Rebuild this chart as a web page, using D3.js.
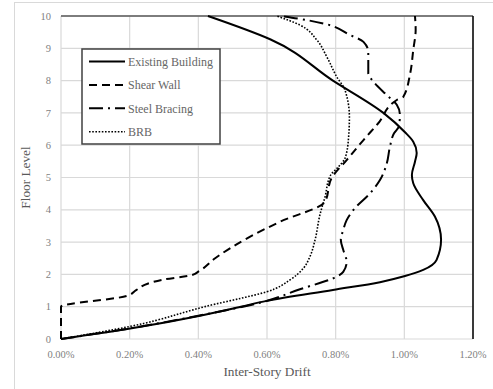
<!doctype html>
<html lang="en">
  <head>
    <meta charset="UTF-8" />
    <title>Inter-Story Drift</title>
    <script src="https://unpkg.com/d3@7.9.0/dist/d3.min.js"></script>
    <style>
      body {
        margin: 0;
        background: #fff;
      }
    </style>
  </head>
  <body>
    <div id="chart"></div>
    <script>
      // [drift (%), floor level]
      const existingBuilding = [
        [0, 0], [0.206, 0.33], [0.405, 0.72], [0.524, 1.0], [0.599, 1.18],
        [0.792, 1.52], [0.929, 1.76], [1.002, 1.95], [1.055, 2.14],
        [1.094, 2.45], [1.107, 3.07], [1.089, 3.79], [1.055, 4.3],
        [1.026, 4.82], [1.022, 5.08], [1.031, 5.49], [1.036, 5.76],
        [1.026, 6.11], [1.002, 6.4], [0.939, 7.0], [0.792, 8.0],
        [0.609, 9.28], [0.428, 10],
      ];
      const shearWall = [
        [0, 0], [0, 1.0], [0.191, 1.33], [0.22, 1.52], [0.254, 1.72],
        [0.293, 1.83], [0.381, 1.98], [0.402, 2.1], [0.449, 2.5],
        [0.551, 3.17], [0.638, 3.63], [0.769, 4.25], [0.788, 4.98],
        [0.832, 5.54], [0.881, 6.16], [0.924, 6.68], [0.978, 7.4],
        [0.997, 7.5], [1.017, 8.22], [1.026, 8.95], [1.033, 9.57],
        [1.031, 10],
      ];
      const steelBracing = [
        [0, 0], [0.2, 0.33], [0.4, 0.72], [0.589, 1.15], [0.696, 1.54],
        [0.803, 1.93], [0.822, 2.08], [0.832, 2.39], [0.822, 2.76],
        [0.815, 3.07], [0.822, 3.37], [0.832, 3.68], [0.856, 4.05],
        [0.9, 4.51], [0.929, 4.92], [0.949, 5.44], [0.958, 5.95],
        [0.97, 6.37], [0.985, 6.6], [0.987, 6.95], [0.978, 7.25],
        [0.949, 7.55], [0.91, 7.97], [0.895, 8.22], [0.895, 8.89],
        [0.881, 9.2], [0.842, 9.41], [0.764, 9.77], [0.69, 9.92],
        [0.64, 10],
      ];
      const brb = [
        [0, 0], [0.206, 0.4], [0.449, 1.08], [0.524, 1.26], [0.599, 1.46],
        [0.667, 1.83], [0.706, 2.19], [0.725, 2.55], [0.74, 3.07],
        [0.754, 3.84], [0.769, 4.4], [0.784, 5.05], [0.808, 5.33],
        [0.827, 5.59], [0.837, 6.16], [0.84, 6.88], [0.827, 7.71],
        [0.803, 8.12], [0.774, 8.74], [0.745, 9.26], [0.696, 9.72],
        [0.628, 10],
      ];

      const seriesNames = ['Existing Building', 'Shear Wall', 'Steel Bracing', 'BRB'];
      const xTicks = [0, 0.2, 0.4, 0.6, 0.8, 1.0, 1.2];
      const yTicks = [0, 1, 2, 3, 4, 5, 6, 7, 8, 9, 10];

      const W = 493;
      const H = 389;
      const plot = { left: 61, right: 473, top: 16, bottom: 339 };
      const serif = "'Liberation Serif', 'Times New Roman', 'DejaVu Serif', serif";

      const styles = [
        { dash: null, width: 2 },
        { dash: '8,5', width: 2 },
        { dash: '14,5,2,5', width: 2 },
        { dash: '1.6,1.6', width: 1.6 },
      ];
      const allSeries = [existingBuilding, shearWall, steelBracing, brb];

      const svg = d3
        .select('#chart')
        .append('svg')
        .attr('width', W)
        .attr('height', H)
        .attr('font-family', serif);

      // outer chart frame
      svg
        .append('rect')
        .attr('x', 14.5)
        .attr('y', 2.5)
        .attr('width', 500)
        .attr('height', 400)
        .attr('fill', '#fff')
        .attr('stroke', '#d9d9d9');

      const x = d3.scaleLinear().domain([0, 1.2]).range([plot.left, plot.right]);
      const y = d3.scaleLinear().domain([0, 10]).range([plot.bottom, plot.top]);

      // gridlines
      svg
        .append('g')
        .selectAll('line')
        .data(xTicks)
        .join('line')
        .attr('x1', (d) => x(d))
        .attr('x2', (d) => x(d))
        .attr('y1', y(0))
        .attr('y2', y(10))
        .attr('stroke', '#d9d9d9')
        .attr('stroke-width', 1.2);

      svg
        .append('g')
        .selectAll('line')
        .data(yTicks)
        .join('line')
        .attr('x1', x(0))
        .attr('x2', x(1.2))
        .attr('y1', (d) => y(d))
        .attr('y2', (d) => y(d))
        .attr('stroke', '#d9d9d9')
        .attr('stroke-width', 1.2);

      // top and right border of plot area
      svg
        .append('line')
        .attr('x1', x(0))
        .attr('x2', x(1.2))
        .attr('y1', y(10))
        .attr('y2', y(10))
        .attr('stroke', '#595959')
        .attr('stroke-width', 1.5);
      svg
        .append('line')
        .attr('x1', x(1.2))
        .attr('x2', x(1.2))
        .attr('y1', y(10))
        .attr('y2', y(0))
        .attr('stroke', '#000')
        .attr('stroke-width', 1.5);

      // tick labels
      svg
        .append('g')
        .selectAll('text')
        .data(xTicks)
        .join('text')
        .attr('x', (d) => x(d))
        .attr('y', 358)
        .attr('text-anchor', 'middle')
        .attr('font-size', 10.5)
        .attr('fill', '#7f7f7f')
        .text((d) => d3.format('.2f')(d) + '%');

      svg
        .append('g')
        .selectAll('text')
        .data(yTicks)
        .join('text')
        .attr('x', 51)
        .attr('y', (d) => y(d))
        .attr('dy', '0.35em')
        .attr('text-anchor', 'end')
        .attr('font-size', 10.5)
        .attr('fill', '#7f7f7f')
        .text((d) => d);

      // axis titles
      svg
        .append('text')
        .attr('x', (plot.left + plot.right) / 2)
        .attr('y', 376)
        .attr('text-anchor', 'middle')
        .attr('font-size', 13.3)
        .attr('fill', '#595959')
        .text('Inter-Story Drift');

      svg
        .append('text')
        .attr(
          'transform',
          `translate(30,${(plot.top + plot.bottom) / 2}) rotate(-90)`,
        )
        .attr('text-anchor', 'middle')
        .attr('font-size', 13.3)
        .attr('fill', '#595959')
        .text('Floor Level');

      // series (floor is monotone along each curve)
      const line = d3
        .line()
        .x((d) => x(d[0]))
        .y((d) => y(d[1]))
        .curve(d3.curveMonotoneY);

      svg
        .append('g')
        .selectAll('path')
        .data(allSeries)
        .join('path')
        .attr('d', line)
        .attr('fill', 'none')
        .attr('stroke', '#000')
        .attr('stroke-width', (d, i) => styles[i].width)
        .attr('stroke-dasharray', (d, i) => styles[i].dash);

      // legend
      const legend = svg.append('g');
      legend
        .append('rect')
        .attr('x', 82)
        .attr('y', 49)
        .attr('width', 138)
        .attr('height', 95)
        .attr('fill', '#fff')
        .attr('stroke', '#404040')
        .attr('stroke-width', 1.5);

      const rows = legend
        .selectAll('g')
        .data(seriesNames)
        .join('g')
        .attr('transform', (d, i) => `translate(0,${61.5 + i * 23.4})`);

      rows
        .append('line')
        .attr('x1', 89)
        .attr('x2', 125)
        .attr('stroke', '#000')
        .attr('stroke-width', (d, i) => styles[i].width)
        .attr('stroke-dasharray', (d, i) => styles[i].dash);

      rows
        .append('text')
        .attr('x', 128)
        .attr('dy', '0.35em')
        .attr('font-size', 12)
        .attr('fill', '#666')
        .text((d) => d);
    </script>
  </body>
</html>
